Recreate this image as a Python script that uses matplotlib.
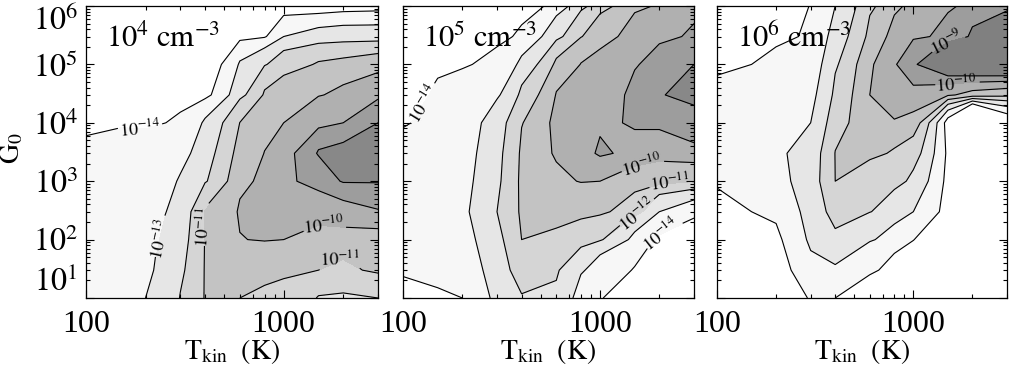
import numpy as np
import matplotlib
matplotlib.use("Agg")
import matplotlib.pyplot as plt
from matplotlib.ticker import FixedLocator, FixedFormatter, LogLocator, NullFormatter

plt.rcParams["font.family"] = "Liberation Serif"
plt.rcParams["mathtext.fontset"] = "stix"
plt.rcParams["contour.negative_linestyle"] = "solid"

# grid of the models
T_KIN = [100, 150, 200, 300, 400, 600, 800, 1000, 1500, 2000, 3000]      # K
G0 = [10, 30, 100, 300, 1e3, 3e3, 1e4, 3e4, 1e5, 3e5, 1e6]

# log10(rate): one row per T_KIN value, columns follow G0 from low to high
LOG_RATE_N4 = [
    [-13.6, -13.6, -13.6, -13.65, -13.7, -13.85, -14.2, -14.6, -15.0, -15.3, -15.6],
    [-13.4, -13.35, -13.35, -13.4, -13.5, -13.7, -14.1, -14.5, -14.9, -15.2, -15.5],
    [-13.0, -13.2, -13.3, -13.4, -13.5, -13.65, -14.15, -14.5, -14.85, -15.1, -15.4],
    [-11.97, -12.2, -12.45, -12.67, -12.93, -13.34, -13.87, -14.37, -14.9, -15.2, -15.5],
    [-10.95, -10.95, -10.97, -10.98, -12.1, -12.45, -12.86, -14.3, -14.8, -15.1, -15.4],
    [-11.0, -10.5, -10.02, -9.9, -10.26, -10.6, -10.99, -12.3, -12.9, -14.3, -15.0],
    [-11.2, -10.58, -9.95, -9.7, -9.75, -9.98, -10.44, -10.89, -12.08, -14.1, -15.0],
    [-11.4, -10.7, -10.0, -9.6, -9.2, -9.4, -10.0, -10.57, -11.43, -13.0, -14.8],
    [-12.05, -11.0, -10.3, -9.5, -8.6, -7.9, -9.4, -10.05, -10.9, -12.6, -14.8],
    [-12.1, -11.2, -10.3, -9.35, -7.9, -7.7, -9.0, -9.8, -10.75, -12.5, -14.6],
    [-12.0, -10.8, -10.35, -9.05, -7.9, -7.6, -8.0, -9.3, -10.45, -12.5, -14.5],
]
LOG_RATE_N5 = [
    [-14.2, -13.9, -13.6, -13.5, -13.5, -13.7, -14.1, -14.5, -14.9, -15.2, -15.5],
    [-14.1, -13.7, -13.4, -13.3, -13.3, -13.4, -13.6, -13.8, -14.3, -14.8, -15.2],
    [-14.0, -13.6, -13.35, -13.2, -13.3, -13.4, -13.5, -13.65, -14.1, -14.6, -15.1],
    [-12.7, -12.5, -12.3, -12.0, -12.2, -12.3, -12.5, -13.15, -13.7, -14.3, -15.0],
    [-12.05, -11.5, -11.0, -10.85, -10.8, -10.85, -11.05, -11.8, -12.8, -13.8, -14.6],
    [-12.1, -11.9, -11.1, -10.75, -10.2, -9.85, -9.7, -9.95, -10.8, -12.3, -13.6],
    [-13.5, -12.85, -11.5, -10.7, -9.95, -9.5, -9.4, -9.6, -9.97, -11.05, -12.3],
    [-13.95, -13.6, -11.9, -10.8, -10.0, -8.8, -9.3, -9.5, -9.75, -10.35, -11.4],
    [-14.6, -14.05, -13.3, -11.6, -10.4, -9.4, -8.8, -8.75, -9.1, -9.6, -10.2],
    [-15.2, -14.7, -14.1, -13.0, -10.6, -9.6, -8.7, -8.05, -8.5, -9.3, -9.9],
    [-15.5, -15.1, -14.6, -13.7, -10.95, -9.2, -8.3, -7.7, -8.0, -8.8, -9.5],
]
LOG_RATE_N6 = [
    [-16.3, -15.9, -15.5, -15.2, -14.9, -14.75, -14.7, -14.8, -15.2, -15.6, -16.0],
    [-16.1, -15.7, -15.3, -15.0, -14.6, -14.45, -14.4, -14.5, -15.0, -15.4, -15.9],
    [-15.8, -15.5, -15.2, -14.75, -14.3, -14.15, -14.1, -14.2, -14.7, -15.3, -15.8],
    [-14.9, -14.2, -13.8, -13.6, -13.5, -13.6, -14.0, -14.3, -14.6, -14.8, -14.95],
    [-15.0, -14.1, -13.15, -12.6, -12.0, -11.98, -12.4, -12.8, -13.15, -13.6, -14.0],
    [-15.6, -14.8, -13.9, -12.97, -12.4, -11.8, -11.25, -11.0, -11.15, -11.75, -12.2],
    [-16.5, -15.4, -14.4, -13.45, -12.7, -12.1, -11.05, -10.4, -10.1, -10.6, -11.3],
    [-17.0, -16.0, -14.95, -14.0, -13.2, -12.5, -11.3, -10.2, -9.2, -10.15, -10.6],
    [-18.0, -17.6, -17.2, -15.4, -15.3, -15.2, -15.5, -10.85, -7.0, -9.8, -10.1],
    [-18.5, -18.1, -17.7, -17.2, -16.7, -16.2, -19.5, -11.4, -6.4, -8.8, -9.8],
    [-17.0, -16.8, -16.6, -16.4, -16.2, -16.0, -15.9, -11.7, -6.1, -7.5, -9.5],
]

DENSITY = [r"$10^4\ \mathrm{cm}^{-3}$", r"$10^5\ \mathrm{cm}^{-3}$", r"$10^6\ \mathrm{cm}^{-3}$"]
LEVELS = [[-14, -13, -12, -11, -10, -9, -8],
          [-14, -13, -12, -11, -10, -9, -8],
          [-15, -14, -13, -12, -11, -10, -9]]
FILLS = [["#f7f7f7", "#e6e6e6", "#d5d5d5", "#c3c3c3", "#b0b0b0", "#9d9d9d", "#888888"],
         ["#f7f7f7", "#e6e6e6", "#d5d5d5", "#c3c3c3", "#b0b0b0", "#9d9d9d", "#888888"],
         ["#f7f7f7", "#e6e6e6", "#d5d5d5", "#c3c3c3", "#b0b0b0", "#9d9d9d", "#808080"]]
# contour labels: (level, T_kin, G0)
LABELS = [[(-14, 187, 7400), (-13, 245, 98), (-11, 390, 163), (-10, 1574, 134), (-11, 1850, 59)],
          [(-14, 125, 21500), (-10, 1650, 1370), (-11, 2260, 1120), (-12, 1560, 240), (-14, 2020, 130)],
          [(-9, 1535, 195000), (-10, 1660, 39000)]]
Y_TICKS = [10, 100, 1e3, 1e4, 1e5, 1e6]
Y_TICKLABELS = [r"$10^1$", r"$10^2$", r"$10^3$", r"$10^4$", r"$10^5$", r"$10^6$"]

fig = plt.figure(figsize=(10.11, 3.69), dpi=100)
lefts = [86, 403, 717]
widths = [292, 291, 290]

for i, rate in enumerate([LOG_RATE_N4, LOG_RATE_N5, LOG_RATE_N6]):
    ax = fig.add_axes([lefts[i] / 1011, 1 - 298 / 369, widths[i] / 1011, 292 / 369])
    ax.set_xscale("log"); ax.set_yscale("log")
    ax.set_xlim(100, 3000); ax.set_ylim(10, 1e6)
    z = np.array(rate).T
    ax.contourf(T_KIN, G0, z, levels=LEVELS[i] + [0], colors=FILLS[i])
    lines = {}
    for lev in LEVELS[i]:
        lines[lev] = ax.contour(T_KIN, G0, z, levels=[lev], colors="k",
                                linewidths=0.8, linestyles="solid")
    for lev, t, g in LABELS[i]:
        lines[lev].clabel(manual=[(t, g)], inline=True, inline_spacing=2,
                          fmt=lambda v: rf"$10^{{{int(round(v))}}}$", fontsize=13)

    ax.xaxis.set_major_locator(FixedLocator([100, 1000]))
    ax.xaxis.set_major_formatter(FixedFormatter(["100", "1000"]))
    ax.xaxis.set_minor_locator(LogLocator(base=10, subs=np.arange(2, 10), numticks=20))
    ax.xaxis.set_minor_formatter(NullFormatter())
    ax.yaxis.set_major_locator(FixedLocator(Y_TICKS))
    ax.yaxis.set_minor_locator(LogLocator(base=10, subs=np.arange(2, 10), numticks=20))
    ax.yaxis.set_minor_formatter(NullFormatter())
    ax.tick_params(which="both", direction="in", top=True, right=True, width=0.8)
    ax.tick_params(which="major", length=6, labelsize=23)
    ax.tick_params(which="minor", length=3)
    ax.tick_params(axis="x", pad=9)
    ax.tick_params(axis="y", pad=6)
    if i == 0:
        ax.yaxis.set_major_formatter(FixedFormatter(Y_TICKLABELS))
        fig.canvas.draw()
        lbls = ax.get_yticklabels()
        lbls[0].set_va("bottom")
        lbls[-1].set_va("top")
    else:
        ax.yaxis.set_major_formatter(NullFormatter())
    for s in ax.spines.values():
        s.set_linewidth(0.9)

    ax.text(0.07, 0.86, DENSITY[i], transform=ax.transAxes, fontsize=22, va="baseline")
    fig.text((lefts[i] + widths[i] / 2) / 1011, 1 - 352 / 369, r"$\mathrm{T_{kin}\ \ (K)}$",
             ha="center", va="center", fontsize=20)

fig.text(12 / 1011, 1 - 148 / 369, r"$\mathrm{G_0}$", rotation=90, ha="center", va="center", fontsize=20)
fig.savefig("out.png", dpi=100, facecolor="white")
